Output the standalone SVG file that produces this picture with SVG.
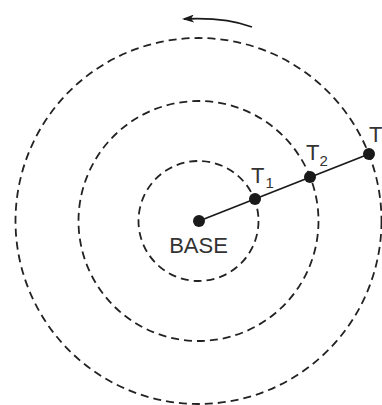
<svg xmlns="http://www.w3.org/2000/svg" width="382" height="405" viewBox="0 0 382 405">
<defs>
<style>
.orbit{fill:none;stroke:#222;stroke-width:1.8;stroke-dasharray:8 5}
.dot{fill:#1a1a1a}
.lbl{font-family:"Liberation Sans",Arial,sans-serif;font-size:22px;fill:#333}
.sub{font-size:15px;fill:#333}
.link{stroke:#1a1a1a;stroke-width:1.8;fill:none}
</style>
<marker id="ah" markerWidth="12" markerHeight="8" refX="10" refY="4" orient="auto" markerUnits="userSpaceOnUse">
<path d="M0,0 L12,4 L0,8 L3,4 Z" fill="#1a1a1a"/>
</marker>
</defs>
<g id="orbits">
<circle class="orbit" cx="198.5" cy="221" r="60"/>
<circle class="orbit" cx="198.5" cy="221" r="120"/>
<circle class="orbit" cx="198.5" cy="221" r="183"/>
</g>
<g id="connectors">
<line class="link" x1="199" y1="221" x2="369" y2="154"/>
<path class="link" d="M252,27 Q225,17 184,19" marker-end="url(#ah)"/>
</g>
<g id="base">
<circle class="dot" cx="199" cy="221" r="6"/>
<text class="lbl" x="198.5" y="253" text-anchor="middle">BASE</text>
</g>
<g id="t1">
<circle class="dot" cx="255" cy="199" r="6"/>
<text class="lbl" x="251" y="183">T<tspan class="sub" dx="1" dy="5">1</tspan></text>
</g>
<g id="t2">
<circle class="dot" cx="310" cy="177" r="6"/>
<text class="lbl" x="306" y="160">T<tspan class="sub" dy="6">2</tspan></text>
</g>
<g id="t">
<circle class="dot" cx="369" cy="154" r="6"/>
<text class="lbl" x="369" y="142">T</text>
</g>
</svg>
